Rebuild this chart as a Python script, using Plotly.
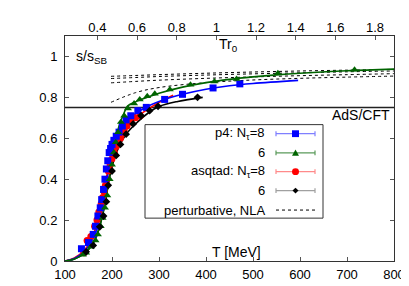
import plotly.graph_objects as go

# ---------------- data ----------------
p4_n8_T = [135, 150, 160, 165, 170, 175, 178, 182, 185, 188, 191, 194, 197, 200, 204, 209, 215, 222, 230, 240, 255, 273, 312, 350, 415, 472]
p4_n8_s = [0.06, 0.09, 0.13, 0.17, 0.22, 0.26, 0.30, 0.35, 0.40, 0.45, 0.49, 0.53, 0.55, 0.57, 0.59, 0.61, 0.63, 0.66, 0.69, 0.71, 0.735, 0.751, 0.79, 0.815, 0.846, 0.866]

p4_n6_T = [138, 145, 155, 165, 170, 176, 180, 185, 190, 195, 200, 204, 208, 213, 219, 226, 234, 247, 259, 275, 291, 323, 367, 418, 465, 553, 716]
p4_n6_s = [0.03, 0.04, 0.07, 0.10, 0.13, 0.17, 0.21, 0.26, 0.32, 0.40, 0.47, 0.53, 0.58, 0.63, 0.68, 0.71, 0.745, 0.77, 0.79, 0.805, 0.818, 0.838, 0.862, 0.878, 0.89, 0.918, 0.935]

asq_n8_T = [140, 147, 155, 163, 168, 172, 177, 180, 183, 186, 189, 192, 196, 200, 205, 209, 213, 218, 222, 226, 232, 240, 250, 260]
asq_n8_s = [0.04, 0.10, 0.12, 0.17, 0.20, 0.24, 0.28, 0.31, 0.34, 0.37, 0.40, 0.44, 0.47, 0.50, 0.53, 0.56, 0.58, 0.60, 0.62, 0.64, 0.66, 0.68, 0.70, 0.71]

asq_n6_T = [145, 160, 174, 182, 188, 192, 200, 209, 218, 230, 245, 262, 280, 298, 382]
asq_n6_s = [0.045, 0.076, 0.167, 0.22, 0.29, 0.37, 0.44, 0.516, 0.57, 0.62, 0.67, 0.71, 0.735, 0.756, 0.80]

fit_p4_n8_T = [100, 120, 140, 155, 165, 175, 185, 195, 205, 215, 230, 250, 275, 300, 350, 400, 450, 500, 596]
fit_p4_n8_s = [0, 0.012, 0.045, 0.09, 0.14, 0.22, 0.34, 0.47, 0.57, 0.63, 0.68, 0.72, 0.755, 0.78, 0.815, 0.84, 0.857, 0.868, 0.883]

fit_p4_n6_T = [100, 120, 140, 155, 165, 175, 185, 195, 205, 215, 225, 233, 250, 275, 300, 350, 400, 450, 500, 550, 600, 700, 800]
fit_p4_n6_s = [0, 0.01, 0.035, 0.07, 0.11, 0.18, 0.28, 0.42, 0.56, 0.66, 0.72, 0.757, 0.778, 0.80, 0.82, 0.85, 0.872, 0.888, 0.9, 0.91, 0.918, 0.93, 0.938]

fit_asq_n8_T = [100, 120, 140, 155, 165, 175, 185, 195, 205, 215, 230, 250, 275, 300, 330]
fit_asq_n8_s = [0, 0.015, 0.05, 0.10, 0.16, 0.25, 0.37, 0.48, 0.55, 0.60, 0.655, 0.70, 0.74, 0.775, 0.81]

fit_asq_n6_T = [100, 120, 140, 155, 165, 175, 185, 195, 205, 215, 230, 250, 275, 300, 340, 393]
fit_asq_n6_s = [0, 0.01, 0.035, 0.07, 0.11, 0.18, 0.28, 0.41, 0.50, 0.56, 0.62, 0.67, 0.72, 0.755, 0.78, 0.80]

pert_T = [198, 250, 300, 400, 500, 600, 700, 800]
pert_a = [0.903, 0.907, 0.911, 0.918, 0.924, 0.929, 0.933, 0.937]
pert_b = [0.892, 0.897, 0.902, 0.909, 0.915, 0.920, 0.925, 0.929]
pert_c = [0.871, 0.878, 0.884, 0.893, 0.900, 0.906, 0.911, 0.916]
pert_d = [0.776, 0.823, 0.848, 0.872, 0.885, 0.893, 0.899, 0.904]

ads_cft = 0.75
ads_T = [100, 800]

x_ticks = [100, 200, 300, 400, 500, 600, 700, 800]
y_ticks = [0, 0.2, 0.4, 0.6, 0.8, 1]
tr0_ticks = [0.4, 0.6, 0.8, 1, 1.2, 1.4, 1.6, 1.8]
T_per_Tr0 = 422.0  # MeV  (1/r0)

legend_labels = ["p4: N<sub>τ</sub>=8", "6", "asqtad: N<sub>τ</sub>=8", "6", "perturbative, NLA"]

# ---------------- style ----------------
BLUE, GREEN, RED, BLACK = "#0000ff", "#006400", "#ff0000", "#000000"
ERR = ["#7f7fff", "#5a9a5a", "#ff8a8a", "#a0a0a0"]
FONT = "Liberation Sans, Arial, sans-serif"

XR = [100, 800]
YR = [0, 1.1]
L, R, T, B = 57, 23, 27, 28
W, H = 409, 286
pw, ph = W - L - R, H - T - B
dx = (XR[1] - XR[0]) / pw  # data per px
dy = (YR[1] - YR[0]) / ph

fig = go.Figure()

# perturbative dashed band
for arr in (pert_a, pert_b, pert_c, pert_d):
    fig.add_trace(go.Scatter(x=pert_T, y=arr, mode="lines", line=dict(color="black", width=1, dash="3px,3px"),
                             line_shape="spline", showlegend=False, hoverinfo="skip"))

# AdS/CFT line
fig.add_trace(go.Scatter(x=ads_T, y=[ads_cft, ads_cft], mode="lines", line=dict(color="#222", width=1.5),
                         showlegend=False, hoverinfo="skip"))

# fit curves
for xs, ys, c in ((fit_asq_n6_T, fit_asq_n6_s, BLACK), (fit_asq_n8_T, fit_asq_n8_s, RED),
                  (fit_p4_n8_T, fit_p4_n8_s, BLUE), (fit_p4_n6_T, fit_p4_n6_s, GREEN)):
    fig.add_trace(go.Scatter(x=xs, y=ys, mode="lines", line=dict(color=c, width=1.6),
                             line_shape="spline", showlegend=False, hoverinfo="skip"))

# data points
fig.add_trace(go.Scatter(x=asq_n8_T, y=asq_n8_s, mode="markers", marker=dict(symbol="circle", size=7, color=RED),
                         showlegend=False))
fig.add_trace(go.Scatter(x=p4_n8_T, y=p4_n8_s, mode="markers", marker=dict(symbol="square", size=7, color=BLUE),
                         showlegend=False))
fig.add_trace(go.Scatter(x=p4_n6_T, y=p4_n6_s, mode="markers", marker=dict(symbol="triangle-up", size=7, color=GREEN),
                         showlegend=False))
fig.add_trace(go.Scatter(x=asq_n6_T, y=asq_n6_s, mode="markers", marker=dict(symbol="diamond", size=6, color=BLACK),
                         showlegend=False))

# invisible trace on top axis
fig.add_trace(go.Scatter(x=[XR[0] / T_per_Tr0, XR[1] / T_per_Tr0], y=[None, None], xaxis="x2", mode="markers",
                         showlegend=False, hoverinfo="skip"))

# ---------------- manual legend (gnuplot style) ----------------
shapes = []
annotations = []
box_x0, box_x1 = 100 + (137 - L) * dx, 100 + (315 - L) * dx
box_y1, box_y0 = (H - B - 118) * dy, (H - B - 214) * dy
shapes.append(dict(type="rect", xref="x", yref="y", x0=box_x0, x1=box_x1, y0=box_y0, y1=box_y1,
                   line=dict(color="#333", width=1), fillcolor="white", layer="above"))
row_px = [127.3, 147, 166.3, 185.7, 205.7]
text_right = 100 + (259 - L) * dx
s0, s1, sm = 100 + (268 - L) * dx, 100 + (307 - L) * dx, 100 + (287.5 - L) * dx
mcols = [BLUE, GREEN, RED, BLACK]
for i, lab in enumerate(legend_labels):
    yv = (H - B - row_px[i]) * dy
    annotations.append(dict(x=text_right, y=yv, xref="x", yref="y", text=lab, showarrow=False,
                            xanchor="right", yanchor="middle", font=dict(size=13, family=FONT, color="black")))
    if i < 4:
        c = ERR[i]
        shapes.append(dict(type="line", xref="x", yref="y", x0=s0, x1=s1, y0=yv, y1=yv, line=dict(color=c, width=1.2), layer="above"))
        for xe in (s0, s1):
            shapes.append(dict(type="line", xref="x", yref="y", x0=xe, x1=xe, y0=yv - 2.5 * dy, y1=yv + 2.5 * dy,
                               line=dict(color=c, width=1.2), layer="above"))
        mc = mcols[i]
        if i == 0:
            shapes.append(dict(type="rect", xref="x", yref="y", x0=sm - 3.5 * dx, x1=sm + 3.5 * dx, y0=yv - 3.5 * dy,
                               y1=yv + 3.5 * dy, fillcolor=mc, line=dict(width=0), layer="above"))
        elif i == 1:
            p = f"M {sm - 3.5*dx} {yv - 3*dy} L {sm + 3.5*dx} {yv - 3*dy} L {sm} {yv + 3.5*dy} Z"
            shapes.append(dict(type="path", xref="x", yref="y", path=p, fillcolor=mc, line=dict(width=0), layer="above"))
        elif i == 2:
            shapes.append(dict(type="circle", xref="x", yref="y", x0=sm - 3.5 * dx, x1=sm + 3.5 * dx, y0=yv - 3.5 * dy,
                               y1=yv + 3.5 * dy, fillcolor=mc, line=dict(width=0), layer="above"))
        else:
            p = f"M {sm - 3*dx} {yv} L {sm} {yv + 3*dy} L {sm + 3*dx} {yv} L {sm} {yv - 3*dy} Z"
            shapes.append(dict(type="path", xref="x", yref="y", path=p, fillcolor=mc, line=dict(width=0), layer="above"))
    else:
        shapes.append(dict(type="line", xref="x", yref="y", x0=s0, x1=s1, y0=yv, y1=yv,
                           line=dict(color="black", width=1, dash="3px,3px"), layer="above"))

# text labels
annotations += [
    dict(x=119, y=0.995, xref="x", yref="y", text="s/s<sub>SB</sub>", showarrow=False, xanchor="left", yanchor="middle",
         font=dict(size=14, family=FONT, color="black")),
    dict(x=447, y=1.058, xref="x", yref="y", text="Tr<sub>0</sub>", showarrow=False, xanchor="center", yanchor="middle",
         font=dict(size=14, family=FONT, color="black")),
    dict(x=465, y=0.045, xref="x", yref="y", text="T [MeV]", showarrow=False, xanchor="center", yanchor="middle",
         font=dict(size=14, family=FONT, color="black")),
    dict(x=795, y=0.715, xref="x", yref="y", text="AdS/CFT", showarrow=False, xanchor="right", yanchor="middle",
         font=dict(size=14, family=FONT, color="black")),
]

axis_common = dict(showgrid=False, zeroline=False, ticks="inside", ticklen=4, tickcolor="#555",
                   tickfont=dict(size=13, family=FONT, color="black"))

fig.update_layout(
    width=W, height=H, margin=dict(l=L, r=R, t=T, b=B), paper_bgcolor="white", plot_bgcolor="white",
    showlegend=False, shapes=shapes, annotations=annotations,
    xaxis=dict(range=XR, tickvals=x_ticks, showline=True, linecolor="#333", linewidth=1, mirror=True,
               ticklabelstandoff=1, **axis_common),
    yaxis=dict(range=YR, tickvals=y_ticks, showline=True, linecolor="#333", linewidth=1, mirror="ticks",
               ticklabelstandoff=4, **axis_common),
    xaxis2=dict(range=[XR[0] / T_per_Tr0, XR[1] / T_per_Tr0], overlaying="x", side="top", anchor="y",
                tickvals=tr0_ticks, showline=False, **axis_common),
)

fig.write_html("out.html")
